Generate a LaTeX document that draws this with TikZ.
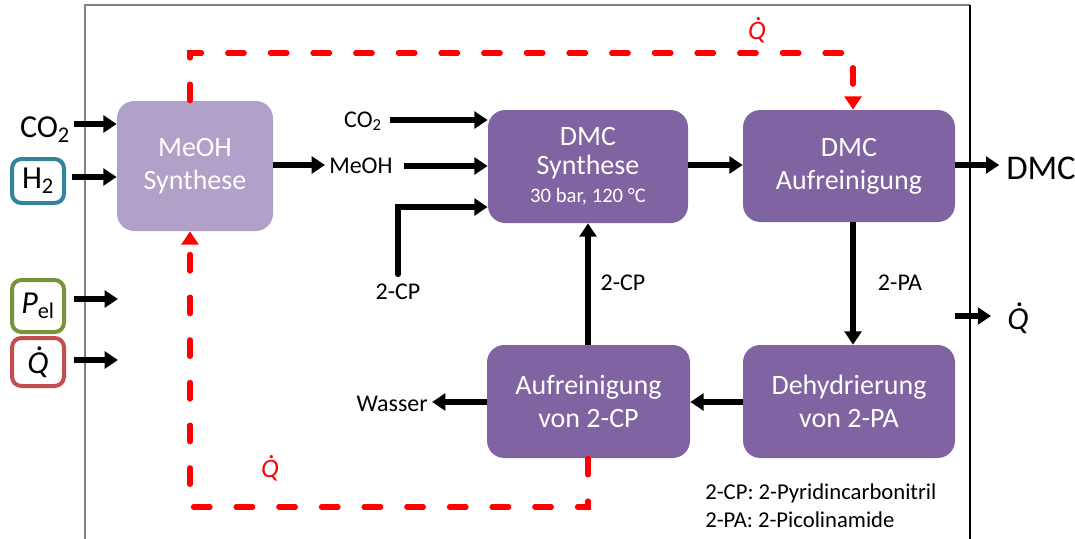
\documentclass[tikz,border=0pt]{standalone}
\usepackage{fontspec}
\setmainfont{Carlito}
\usetikzlibrary{arrows.meta}
\definecolor{boxp}{HTML}{8064A2}
\definecolor{boxl}{HTML}{B1A0C7}
\definecolor{hteal}{HTML}{31849B}
\definecolor{pgreen}{HTML}{77933C}
\definecolor{qred}{HTML}{C0504D}
\definecolor{heat}{HTML}{FF0000}
\definecolor{framegray}{HTML}{808080}
\newcommand\Qd{\leavevmode\hbox{\itshape\setbox0=\hbox{Q}\rlap{\hbox to\wd0{\hss\kern0.14em\raisebox{0.72em}{.}\hss}}\box0}}
\begin{document}
\begin{tikzpicture}[x=0.75pt,y=-0.75pt,
  proc/.style={rectangle, rounded corners=13pt, fill=boxp, text=white, align=center, inner sep=0pt,
    font=\fontsize{21}{25}\selectfont},
  arr/.style={line width=3.8pt, -{Triangle[length=10pt,width=12.5pt]}},
  flow/.style={line width=3.8pt},
  heatline/.style={draw=heat, line width=3.8pt, line cap=round, dash pattern=on 12.5pt off 19.5pt},
  heatarr/.style={-{Triangle[length=10pt,width=12.5pt]}},
  lbl/.style={inner sep=0pt, font=\fontsize{18}{21}\selectfont},
  big/.style={inner sep=0pt, font=\fontsize{24}{28}\selectfont},
  inbox/.style={rectangle, rounded corners=7pt, line width=3pt, fill=white, inner sep=0pt,
    minimum width=39pt, font=\fontsize{24}{28}\selectfont},
  redq/.style={inner sep=0pt, text=heat, font=\fontsize{20}{24}\selectfont}
]
\useasboundingbox (0,0) rectangle (1075,539);
% frame
\draw[framegray, line width=1.3pt] (85,539) -- (85,5) -- (970,5);
\draw[black, line width=0.9pt] (970,5) -- (970,539);

% process boxes
\node[proc, fill=boxl, minimum width=117pt, minimum height=97.5pt] (meoh) at (195,166) {MeOH\\Synthese};
\node[proc, minimum width=150pt, minimum height=84.75pt] (dmcs) at (588,166.5)
  {DMC\\[-3pt]Synthese\\[-4pt]{\fontsize{15.5}{18}\selectfont 30 bar, 120 °C}};
\node[proc, minimum width=159pt, minimum height=84pt] (dmca) at (849,166) {DMC\\Aufreinigung};
\node[proc, minimum width=152.25pt, minimum height=84.75pt] (aufr) at (588.5,401.5) {Aufreinigung\\von 2-CP};
\node[proc, minimum width=159pt, minimum height=84.75pt] (dehy) at (849,401.5) {Dehydrierung\\von 2-PA};

% left inputs
\node[big] (co2L) at (45,130) {CO\textsubscript{2}};
\node[inbox, draw=hteal, minimum height=33pt] (h2) at (38,181) {H\textsubscript{2}};
\node[inbox, draw=pgreen, minimum height=39pt] (pel) at (38,306) {\textit{P}\textsubscript{el}};
\node[inbox, draw=qred, minimum height=36pt] (qin) at (38,362) {\Qd};

\coordinate (pend) at (118,299);
\coordinate (qend) at (118,360);
\draw[arr] ([xshift=3pt]co2L.east |- 0,124) -- (meoh.west |- 0,124);
\draw[arr] ([xshift=4.5pt]h2.east |- 0,177) -- (meoh.west |- 0,177);
\draw[arr] ([xshift=6pt]pel.east |- pend) -- (pend);
\draw[arr] ([xshift=6pt]qin.east |- qend) -- (qend);

% MeOH to DMC synthesis
\node[lbl, anchor=west] (meohL) at (329,166) {MeOH};
\draw[arr] (meoh.east |- 0,165) -- ([xshift=-3pt]meohL.west |- 0,165);
\draw[arr] ([xshift=8pt]meohL.east |- 0,166) -- (dmcs.west |- 0,166);

\node[lbl] (co2S) at (363,121) {CO\textsubscript{2}};
\draw[arr] ([xshift=6pt]co2S.east |- 0,120) -- (dmcs.west |- 0,120);

\node[lbl] (cpIn) at (398,292) {2-CP};
\coordinate (cpCorner) at (398,207);
\draw[flow, line cap=round] ([yshift=7pt]cpIn.north) -- (cpCorner);
\draw[arr] ([xshift=-1.9pt]cpCorner) -- (dmcs.west |- cpCorner);

% main chain
\draw[arr] (dmcs.east |- 0,165) -- (dmca.west |- 0,165);
\node[big, anchor=west, font=\fontsize{26}{30}\selectfont] (dmcOut) at (1006,168) {DMC};
\draw[arr] (dmca.east |- 0,165) -- ([xshift=-5pt]dmcOut.west |- 0,165);
\draw[arr] (dmca.south -| 853,0) -- (dehy.north -| 853,0);
\node[lbl] (paL) at (900,283) {2-PA};
\draw[arr] (dehy.west |- 0,402) -- (aufr.east |- 0,402);
\node[lbl, anchor=east] (wasser) at (428,404) {Wasser};
\draw[arr] (aufr.west |- 0,402) -- ([xshift=3pt]wasser.east |- 0,402);
\draw[arr] (aufr.north -| 588,0) -- (dmcs.south -| 588,0);
\node[lbl] (cpL) at (623,283) {2-CP};

% heat output
\node[big] (qout) at (1018,318) {\Qd};
\coordinate (qstart) at (955,316);
\draw[arr] (qstart) -- ([xshift=-12pt]qout.west |- qstart);

% heat lines
\draw[heatline] (meoh.north -| 190,0) -- (190,53) -- (853,53) -- ([yshift=9pt]dmca.north -| 853,0);
\draw[draw=heat, line width=3.8pt, heatarr] ([yshift=8pt]dmca.north -| 853,0) -- (dmca.north -| 853,0);
\node[redq] (qtop) at (757,30) {\Qd};

\draw[heatline] (aufr.south -| 588,0) -- (588,507) -- (190,507) -- ([yshift=-9pt]meoh.south -| 190,0);
\draw[draw=heat, line width=3.8pt, heatarr] ([yshift=-8pt]meoh.south -| 190,0) -- (meoh.south -| 190,0);
\node[redq] (qbot) at (270,468) {\Qd};

% legend
\node[lbl, anchor=west, font=\fontsize{17}{20}\selectfont] (leg1) at (705,493) {2-CP: 2-Pyridincarbonitril};
\node[lbl, anchor=west, font=\fontsize{17}{20}\selectfont] (leg2) at (705,520) {2-PA: 2-Picolinamide};
\end{tikzpicture}
\end{document}
